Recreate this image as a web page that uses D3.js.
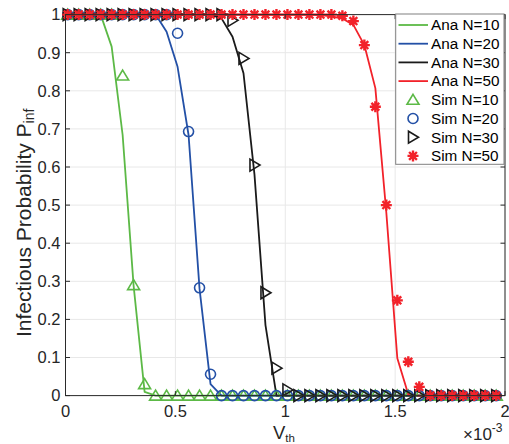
<!DOCTYPE html>
<html><head><meta charset="utf-8">
<script src="https://cdn.jsdelivr.net/npm/d3@7"></script>
<style>body{margin:0;background:#fff}svg{display:block}text{font-family:"Liberation Sans",Arial,sans-serif}</style>
</head><body>
<svg id="c" width="509" height="444"></svg>
<script>
// V_th values (units of 1e-3)
const xValues = [0.01,0.06,0.11,0.16,0.21,0.26,0.31,0.36,0.41,0.46,0.51,0.56,0.61,0.66,0.71,0.76,0.81,0.86,0.91,0.96,1.01,1.06,1.11,1.16,1.21,1.26,1.31,1.36,1.41,1.46,1.51,1.56,1.61,1.66,1.71,1.76,1.81,1.86,1.91,1.96];
const ana10 = [1,1,1,1,0.916,0.684,0.288,0.01,0,0,0,0,0,0,0,0,0,0,0,0,0,0,0,0,0,0,0,0,0,0,0,0,0,0,0,0,0,0,0,0];
const ana20 = [1,1,1,1,1,1,1,1,1,0.955,0.863,0.684,0.28,0.03,0,0,0,0,0,0,0,0,0,0,0,0,0,0,0,0,0,0,0,0,0,0,0,0,0,0];
const ana30 = [1,1,1,1,1,1,1,1,1,1,1,1,1,1,0.99,0.942,0.846,0.58,0.185,0,0,0,0,0,0,0,0,0,0,0,0,0,0,0,0,0,0,0,0,0];
const ana50 = [1,1,1,1,1,1,1,1,1,1,1,1,1,1,1,1,1,1,1,1,1,1,1,0.999,0.995,0.99,0.973,0.92,0.807,0.48,0.098,0.003,0,0,0,0,0,0,0,0];
const sim10 = [1,1,1,1,1,0.84,0.29,0.03,0,0,0,0,0,0,0,0,0,0,0,0,0,0,0,0,0,0,0,0,0,0,0,0,0,0,0,0,0,0,0,0];
const sim20 = [1,1,1,1,1,1,1,1,1,1,0.951,0.693,0.283,0.056,0,0,0,0,0,0,0,0,0,0,0,0,0,0,0,0,0,0,0,0,0,0,0,0,0,0];
const sim30 = [1,1,1,1,1,1,1,1,1,1,1,1,1,1,1,0.985,0.885,0.605,0.27,0.072,0.015,0,0,0,0,0,0,0,0,0,0,0,0,0,0,0,0,0,0,0];
const sim50 = [1,1,1,1,1,1,1,1,1,1,1,1,1,1,1,1,1,1,1,1,1,1,1,1,1,0.997,0.983,0.92,0.758,0.5,0.25,0.089,0.023,0,0,0,0,0,0,0];
const xTicks = [0,0.5,1,1.5,2];
const xTickLabels = ["0","0.5","1","1.5","2"];
const yTicks = [0,0.1,0.2,0.3,0.4,0.5,0.6,0.7,0.8,0.9,1];
const yTickLabels = ["0","0.1","0.2","0.3","0.4","0.5","0.6","0.7","0.8","0.9","1"];
const anaNames = ["Ana N=10","Ana N=20","Ana N=30","Ana N=50"];
const simNames = ["Sim N=10","Sim N=20","Sim N=30","Sim N=50"];

const colors = ["#5cb946","#2350a6","#1a1a1a","#f2222a"];
const L = 65.5, R = 505, T = 14.6, B = 395.6;
const svg = d3.select("#c");
const x = d3.scaleLinear().domain([0,2]).range([L,R]);
const y = d3.scaleLinear().domain([0,1]).range([B,T]);

// grid
const g = svg.append("g");
g.selectAll(".gy").data(yTicks).join("line").attr("x1",L).attr("x2",R)
  .attr("y1",d=>y(d)).attr("y2",d=>y(d)).attr("stroke","#e8e8e8").attr("stroke-width",1);
g.selectAll(".gx").data(xTicks).join("line").attr("y1",T).attr("y2",B)
  .attr("x1",d=>x(d)).attr("x2",d=>x(d)).attr("stroke","#e8e8e8").attr("stroke-width",1);

// lines
const line = d3.line().x((d,i)=>x(xValues[i])).y(d=>y(d));
[ana10,ana20,ana30,ana50].forEach((s,k)=>{
  svg.append("path").attr("d",line(s)).attr("fill","none").attr("stroke",colors[k])
    .attr("stroke-width",1.8).attr("stroke-linejoin","round");
});

// markers
const sym = [
  "M0,-5.5L6,4.5L-6,4.5Z",
  null,
  "M-4.5,-6L5.5,0L-4.5,6Z",
  "M-5.5,0L5.5,0M0,-5.5L0,5.5M-3.9,-3.9L3.9,3.9M-3.9,3.9L3.9,-3.9"
];
function drawMarker(sel,k){
  if(k===1) sel.append("circle").attr("r",5).attr("fill","none").attr("stroke",colors[k]).attr("stroke-width",1.6);
  else if(k===3) sel.append("path").attr("d",sym[k]).attr("fill","none").attr("stroke",colors[k]).attr("stroke-width",2.4);
  else sel.append("path").attr("d",sym[k]).attr("fill","none").attr("stroke",colors[k]).attr("stroke-width",1.6).attr("stroke-linejoin","miter");
}
[sim10,sim20,sim30,sim50].forEach((s,k)=>{
  const gg = svg.append("g");
  s.forEach((v,i)=>{
    const m = gg.append("g").attr("transform",`translate(${x(xValues[i])},${y(v)})`);
    drawMarker(m,k);
  });
});

// axes box
const ax = svg.append("g");
ax.append("rect").attr("x",L).attr("y",T).attr("width",R-L).attr("height",B-T)
  .attr("fill","none").attr("stroke","#2b2b2b").attr("stroke-width",1);
// ticks
yTicks.forEach(t=>{
  ax.append("line").attr("x1",L).attr("x2",L+4.5).attr("y1",y(t)).attr("y2",y(t)).attr("stroke","#2b2b2b");
  ax.append("line").attr("x1",R).attr("x2",R-4.5).attr("y1",y(t)).attr("y2",y(t)).attr("stroke","#2b2b2b");
});
xTicks.forEach(t=>{
  ax.append("line").attr("y1",B).attr("y2",B-4.5).attr("x1",x(t)).attr("x2",x(t)).attr("stroke","#2b2b2b");
  ax.append("line").attr("y1",T).attr("y2",T+4.5).attr("x1",x(t)).attr("x2",x(t)).attr("stroke","#2b2b2b");
});
// tick labels
ax.selectAll(".yl").data(yTicks).join("text").attr("x",L-5).attr("y",(d)=>y(d)+5.8)
  .attr("text-anchor","end").attr("font-size",16.5).attr("fill","#262626").text((d,i)=>yTickLabels[i]);
ax.selectAll(".xl").data(xTicks).join("text").attr("x",d=>x(d)).attr("y",B+21.5)
  .attr("text-anchor","middle").attr("font-size",16.5).attr("fill","#262626").text((d,i)=>xTickLabels[i]);

// axis labels
const yl = svg.append("text").attr("transform","translate(30.5,337) rotate(-90)")
  .attr("font-size",21).attr("fill","#262626");
yl.append("tspan").text("Infectious Probability P");
yl.append("tspan").attr("font-size",14).attr("dy",3.5).text("inf");
const xl = svg.append("text").attr("x",273).attr("y",439).attr("font-size",18.5).attr("fill","#262626");
xl.append("tspan").text("V");
xl.append("tspan").attr("font-size",11.5).attr("dy",2.5).text("th");
const ex = svg.append("text").attr("x",463).attr("y",440).attr("font-size",17).attr("fill","#262626");
ex.append("tspan").text("\u00d710");
ex.append("tspan").attr("font-size",12).attr("dy",-8).text("-3");

// legend
const lg = svg.append("g");
lg.append("rect").attr("x",395.7).attr("y",14).attr("width",108.3).attr("height",150.3)
  .attr("fill","#fff").attr("stroke","#808080").attr("stroke-width",1);
const rowY = i => 25 + i*18.7;
anaNames.forEach((n,k)=>{
  lg.append("line").attr("x1",398.5).attr("x2",428).attr("y1",rowY(k)).attr("y2",rowY(k))
    .attr("stroke",colors[k]).attr("stroke-width",1.8);
  lg.append("text").attr("x",431).attr("y",rowY(k)+5.3).attr("font-size",15.3).attr("fill","#000").text(n);
});
simNames.forEach((n,k)=>{
  const m = lg.append("g").attr("transform",`translate(413,${rowY(k+4)})`);
  drawMarker(m,k);
  lg.append("text").attr("x",431).attr("y",rowY(k+4)+5.3).attr("font-size",15.3).attr("fill","#000").text(n);
});
</script>
</body></html>
